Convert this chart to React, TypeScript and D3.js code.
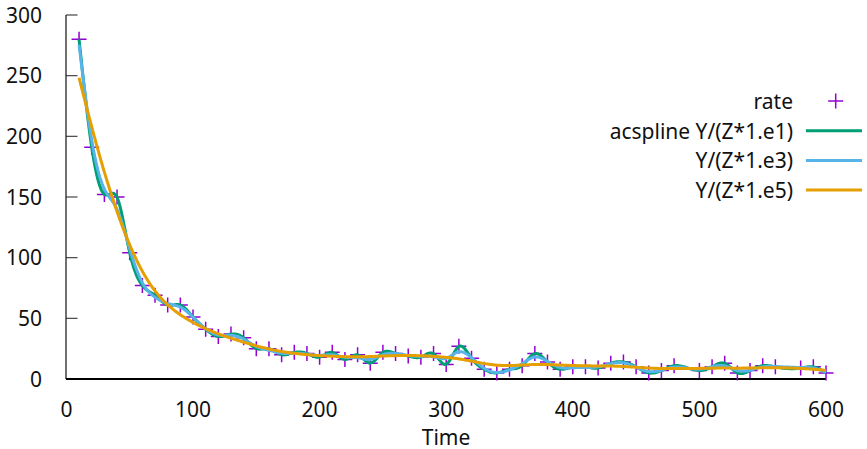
import React from "react";
import * as d3 from "d3";

const times = [10,20,30,40,50,60,70,80,90,100,110,120,130,140,150,160,170,180,190,200,210,220,230,240,250,260,270,280,290,300,310,320,330,340,350,360,370,380,390,400,410,420,430,440,450,460,470,480,500,510,520,530,540,550,560,580,590,600];
const rates = [280,191,152,150,104,77,69,61,61,51,41,35,37,34,25,25,20,22,21,18,22,16,20,13,22,21,19,18,21,12,27,17,8,5,8,11,21,14,8,10,10,9,13,14,10,5,7,11,7,10,13,5,7,11,10,9,10,5];

const xTicks = [0,100,200,300,400,500,600];
const yTicks = [0,50,100,150,200,250,300];

const seriesNames = ["rate","acspline Y/(Z*1.e1)","Y/(Z*1.e3)","Y/(Z*1.e5)"];
const weightFactors = [1e1, 1e3, 1e5];
const zScale = 0.09;
const colors = ["#9400d3","#009e73","#56b4e9","#e69f00"];

// weighted smoothing spline: minimise sum w_i (y_i - f_i)^2 + int f''^2
function smoothingSpline(x: number[], y: number[], w: number[]) {
  const n = x.length;
  const h: number[] = [];
  for (let i = 0; i < n - 1; i++) h.push(x[i + 1] - x[i]);
  const m = n - 2;
  const Q: number[][] = Array.from({ length: n }, () => new Array(m).fill(0));
  for (let j = 1; j <= m; j++) {
    Q[j - 1][j - 1] = 1 / h[j - 1];
    Q[j][j - 1] = -1 / h[j - 1] - 1 / h[j];
    Q[j + 1][j - 1] = 1 / h[j];
  }
  const D = w.map(v => 1 / v);
  const A: number[][] = Array.from({ length: m }, () => new Array(m).fill(0));
  for (let j = 0; j < m; j++) {
    A[j][j] += (h[j] + h[j + 1]) / 3;
    if (j + 1 < m) {
      A[j][j + 1] += h[j + 1] / 6;
      A[j + 1][j] += h[j + 1] / 6;
    }
  }
  for (let a = 0; a < m; a++) {
    for (let b = 0; b < m; b++) {
      let s = 0;
      for (let k = 0; k < n; k++) s += Q[k][a] * D[k] * Q[k][b];
      A[a][b] += s;
    }
  }
  const rhs: number[] = new Array(m).fill(0);
  for (let a = 0; a < m; a++) {
    let s = 0;
    for (let k = 0; k < n; k++) s += Q[k][a] * y[k];
    rhs[a] = s;
  }
  for (let c = 0; c < m; c++) {
    let p = c;
    for (let r = c + 1; r < m; r++) if (Math.abs(A[r][c]) > Math.abs(A[p][c])) p = r;
    [A[c], A[p]] = [A[p], A[c]];
    [rhs[c], rhs[p]] = [rhs[p], rhs[c]];
    for (let r = c + 1; r < m; r++) {
      const f = A[r][c] / A[c][c];
      if (f === 0) continue;
      for (let k = c; k < m; k++) A[r][k] -= f * A[c][k];
      rhs[r] -= f * rhs[c];
    }
  }
  const g: number[] = new Array(m).fill(0);
  for (let r = m - 1; r >= 0; r--) {
    let s = rhs[r];
    for (let k = r + 1; k < m; k++) s -= A[r][k] * g[k];
    g[r] = s / A[r][r];
  }
  const f: number[] = y.map((yi, k) => {
    let s = 0;
    for (let a = 0; a < m; a++) s += Q[k][a] * g[a];
    return yi - D[k] * s;
  });
  const M = [0, ...g, 0];
  const pts: [number, number][] = [];
  for (let i = 0; i < n - 1; i++) {
    const hi = h[i];
    const steps = 12;
    for (let s = 0; s < steps; s++) {
      const t = x[i] + (hi * s) / steps;
      const a = x[i + 1] - t, b = t - x[i];
      const v = (a * a * a * M[i] + b * b * b * M[i + 1]) / (6 * hi) +
        (f[i] / hi - (M[i] * hi) / 6) * a + (f[i + 1] / hi - (M[i + 1] * hi) / 6) * b;
      pts.push([t, v]);
    }
  }
  pts.push([x[n - 1], f[n - 1]]);
  return pts;
}

export default function App() {
  const W = 867, H = 449;
  const xs = d3.scaleLinear().domain([0, 600]).range([66.4, 826]);
  const ys = d3.scaleLinear().domain([0, 300]).range([379, 15]);
  const line = d3.line<[number, number]>().x(d => xs(d[0])).y(d => ys(d[1]));
  const curves = weightFactors.map(k => smoothingSpline(times, rates, rates.map(() => 1 / (zScale * k))));
  const font = "'Noto Sans', sans-serif";
  const fs = 21;
  const legendBase = 109;
  const legendStep = 29.7;
  return (
    <svg width={W} height={H} style={{ position: "absolute", left: 0, top: 0 }} fontFamily={font}>
      <rect width={W} height={H} fill="#fff" />
      {yTicks.map(t => (
        <g key={"y" + t}>
          <line x1={66} x2={77.5} y1={ys(t)} y2={ys(t)} stroke="#444" strokeWidth={1.2} />
          <text x={42} y={ys(t) + 7.5} textAnchor="end" fontSize={fs} fill="#111">{t}</text>
        </g>
      ))}
      {xTicks.map(t => (
        <text key={"x" + t} x={xs(t)} y={417} textAnchor="middle" fontSize={fs} fill="#111">{t}</text>
      ))}
      <text x={446} y={445} textAnchor="middle" fontSize={fs} fill="#111">Time</text>
      <line x1={66} x2={66} y1={15} y2={379} stroke="#222" strokeWidth={1.3} />
      <line x1={66} x2={826} y1={379} y2={379} stroke="#000" strokeWidth={2} />
      {times.map((t, i) => (
        <path key={"p" + i} d={`M${xs(t) - 7.5},${ys(rates[i])}h15M${xs(t)},${ys(rates[i]) - 7.5}v15`} stroke={colors[0]} strokeWidth={1.5} fill="none" />
      ))}
      {curves.map((c, i) => (
        <path key={"c" + i} d={line(c) || ""} stroke={colors[i + 1]} strokeWidth={3} fill="none" strokeLinejoin="round" />
      ))}
      {seriesNames.map((name, i) => {
        const by = legendBase + i * legendStep;
        const cy = by - 8;
        return (
          <g key={"l" + i}>
            <text x={793} y={by} textAnchor="end" fontSize={fs} fill="#111">{name}</text>
            {i === 0 ? (
              <path d={`M${835.7 - 7.5},${cy}h15M${835.7},${cy - 7.5}v15`} stroke={colors[0]} strokeWidth={1.5} fill="none" />
            ) : (
              <line x1={806} x2={862} y1={cy} y2={cy} stroke={colors[i]} strokeWidth={3} />
            )}
          </g>
        );
      })}
    </svg>
  );
}
